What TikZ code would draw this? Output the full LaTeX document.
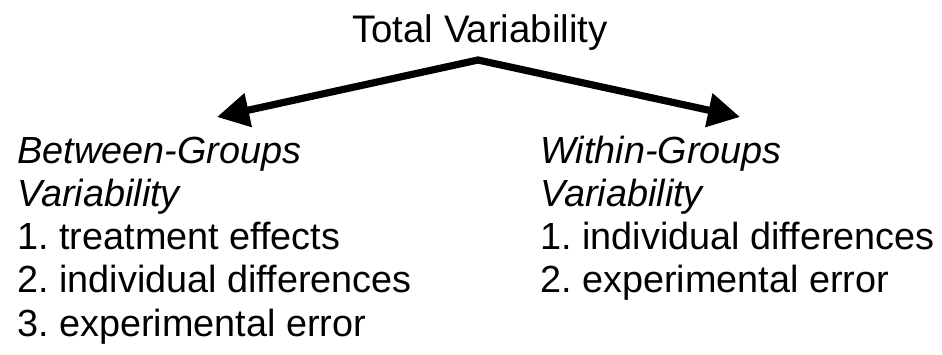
\documentclass[tikz,border=0pt]{standalone}
\usepackage{fontspec}
\setmainfont{Liberation Sans}
\usetikzlibrary{arrows.meta,positioning}
\frenchspacing

\begin{document}
\begin{tikzpicture}[x=0.5pt,y=-0.5pt,
    txt/.style={inner sep=0pt,anchor=base west,font=\fontsize{18.9}{22}\selectfont},
    split/.style={line width=3.6pt,line join=round,{Triangle[length=16pt,width=16.5pt]}-{Triangle[length=16pt,width=16.5pt]}}]
  \useasboundingbox (0,0) rectangle (942,354);
  \node[txt,anchor=base,font=\fontsize{19.2}{22}\selectfont] (tot) at (480,42) {Total Variability};
  % the two sources of variability
  \foreach \k/\lab in {1/{\itshape Between-Groups}, 2/{\itshape Variability}, 3/1. treatment effects, 4/2. individual differences, 5/3. experimental error}
    \node[txt] (bg\k) at (17,{163+43.3*(\k-1)}) {\lab};
  \foreach \k/\lab in {1/{\itshape Within-Groups}, 2/{\itshape Variability}, 3/1. individual differences, 4/2. experimental error}
    \node[txt] (wg\k) at (540,{163+43.3*(\k-1)}) {\lab};
  \coordinate (apex) at (478,60);
  \coordinate (ltip) at (217,117);
  \coordinate (rtip) at (740,117);
  \draw[split] (ltip) -- (apex) -- (rtip);
\end{tikzpicture}
\end{document}
